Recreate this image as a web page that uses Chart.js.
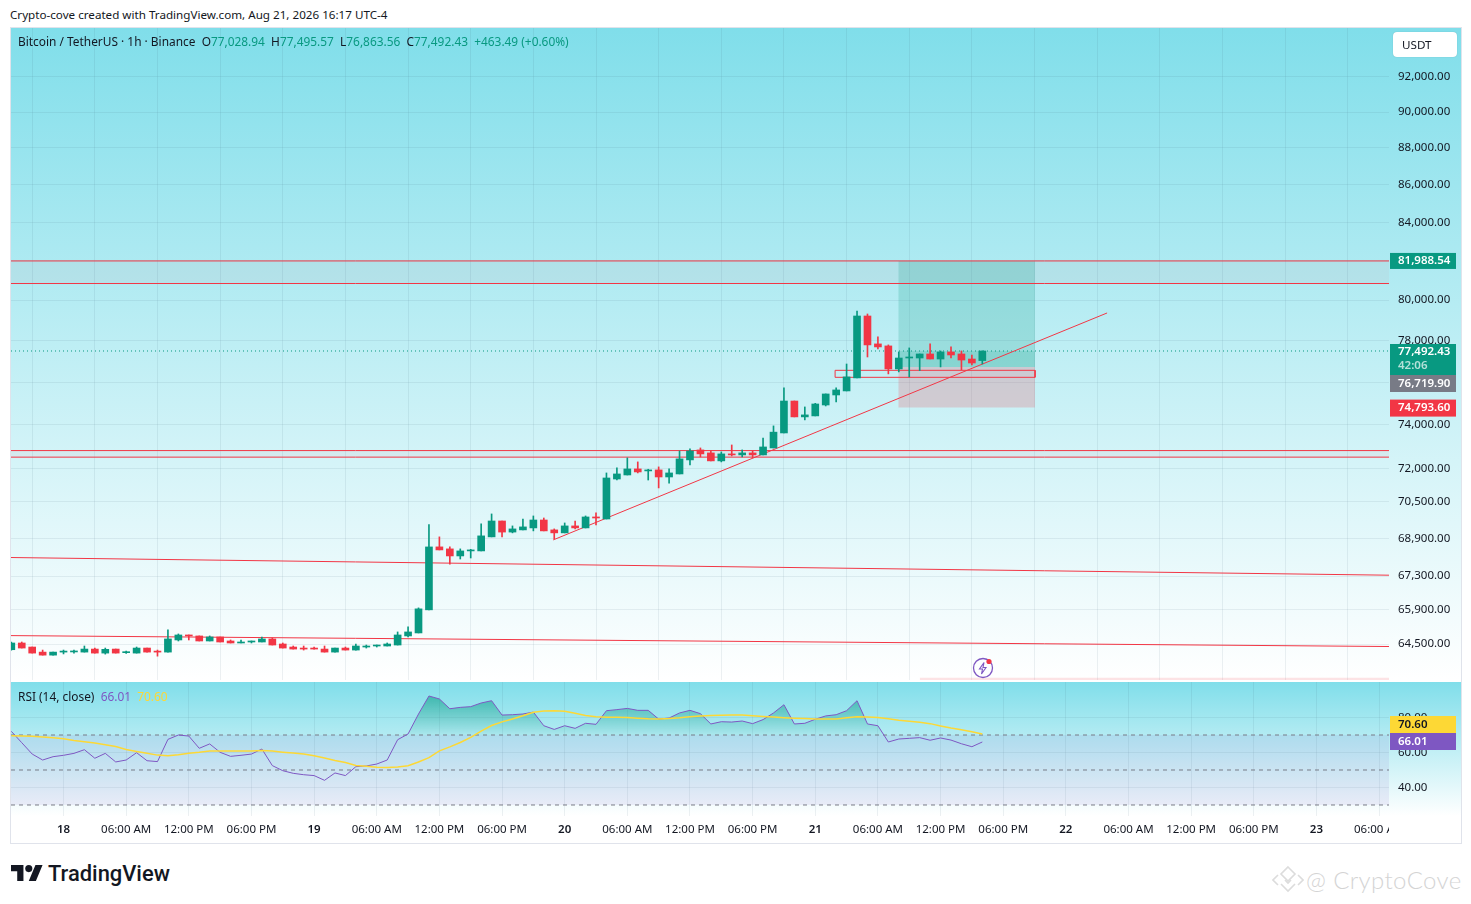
<!DOCTYPE html>
<html>
<head>
<meta charset="utf-8">
<title>BTCUSDT 1h</title>
<script src="https://cdn.jsdelivr.net/npm/chart.js@4"></script>
<style>
  html, body { margin: 0; padding: 0; background: #fff; overflow: hidden; }
  body { width: 1471px; height: 904px; position: relative; font-family: "Noto Sans", sans-serif; color: #131722; font-size: 11.65px; }
  .abs { position: absolute; white-space: nowrap; }
  .legend { font-size: 11.9px; }
  #frame { left: 10px; top: 27px; width: 1450px; height: 815px; border: 1px solid #e0e3eb; }
  #pricePane { left: 11px; top: 28px; width: 1450px; height: 652px; background: linear-gradient(#80deea, #fff); }
  #rsiPane { left: 11px; top: 682px; width: 1450px; height: 134px; background: linear-gradient(#80deea, #fff); }
  canvas { position: absolute; display: block; }
  .g { color: #089981; }
  #usdt { left: 1393px; top: 32px; width: 64px; height: 25px; line-height: 25px; background: #fff; border-radius: 4px; padding-left: 9px; box-sizing: border-box; box-shadow: 0 0 1px rgba(0,0,0,.25); }
</style>
</head>
<body>
<div class="abs" id="frame"></div>
<div class="abs" id="pricePane"></div>
<div class="abs" id="rsiPane"></div>
<canvas id="priceChart" width="1450" height="652" style="left:11px;top:28px"></canvas>
<canvas id="rsiChart" width="1450" height="161" style="left:11px;top:682px"></canvas>

<div class="abs" style="left:10px;top:7px">Crypto-cove created with TradingView.com, Aug 21, 2026 16:17 UTC-4</div>
<div class="abs legend" style="left:18px;top:33px">Bitcoin / TetherUS · 1h · Binance &nbsp;O<span class="g">77,028.94</span> &nbsp;H<span class="g">77,495.57</span> &nbsp;L<span class="g">76,863.56</span> &nbsp;C<span class="g">77,492.43</span> &nbsp;<span class="g">+463.49 (+0.60%)</span></div>
<div class="abs" id="usdt">USDT</div>
<div class="abs legend" style="left:18px;top:688px">RSI (14, close) &nbsp;<span style="color:#7e57c2">66.01</span> &nbsp;<span style="color:#fdd835">70.60</span></div>

<svg class="abs" style="left:971px;top:656px" width="24" height="24" viewBox="0 0 24 24">
  <circle cx="12" cy="12" r="9.5" fill="none" stroke="#7e57c2" stroke-width="1.3"/>
  <path d="M13 6.5 8.5 13h3l-1 5 4.5-6.5h-3z" fill="none" stroke="#7e57c2" stroke-width="1.1"/>
  <circle cx="18" cy="5.5" r="2.6" fill="#f23645"/>
</svg>

<svg class="abs" style="left:11px;top:864px" width="32" height="19" viewBox="0 4 36 19">
  <path d="M14 22H7V11H0V4h14v18zM28 22h-8l7.5-18h8L28 22z" fill="#131722"/><circle cx="20" cy="8" r="4" fill="#131722"/>
</svg>
<div class="abs" style="left:48px;top:859px;font:500 21.9px Roboto, sans-serif;line-height:30px">TradingView</div>

<svg class="abs" style="left:1272px;top:865px" width="32" height="30" viewBox="0 0 32 30" fill="none" stroke="#dcdcdc" stroke-width="1.6">
  <path d="M16 2 23 9 16 16 9 9z"/><path d="M6 10 1 15 6 20M26 10l5 5-5 5"/><path d="M9 19l7 7 7-7"/><path d="M13 15l3 3 3-3"/>
</svg>
<div class="abs" style="left:1306px;top:863px;font:300 24px Lato, sans-serif;line-height:34px;color:#d4d4d4;letter-spacing:.4px">@ CryptoCove</div>

<script>
const firstHour = -5;
const opens = [64270,64541,64378,64174,64052,64174,64180,64174,64296,64134,64296,64150,64134,64337,64215,64174,64663,64866,64826,64622,64785,64622,64541,64581,64581,64704,64500,64378,64337,64337,64296,64174,64337,64256,64378,64419,64419,64459,64826,64948,65895,68545,68459,68157,68372,68372,68976,69666,69184,69278,69364,69709,69278,69149,69451,69364,69842,69753,71522,71703,71975,71885,71930,71613,71749,72383,72836,72700,72338,72655,72610,72700,72610,72927,73615,75102,74359,74405,74916,75387,75578,76197,79210,77837,77739,76626,77153,77153,77348,77104,77446,77348,77104,77028.94];
const highs = [64581,64581,64378,64256,64174,64256,64256,64419,64337,64337,64296,64215,64378,64337,64256,65070,64907,64866,64826,64826,64785,64663,64663,64622,64785,64744,64541,64419,64419,64378,64419,64337,64378,64500,64459,64459,64541,64989,65193,65976,69506,68976,68545,68459,68440,69537,69974,69666,69451,69753,69886,69797,69321,69580,69666,69886,70018,71794,72021,72474,72292,71960,72066,71975,72790,72881,72927,72790,72745,73063,72836,72790,73380,73941,75721,75102,74824,74994,75435,75721,76864,79460,79310,78179,77788,77446,77642,77348,77837,77495,77690,77495,77300,77495.57];
const lows = [64256,64337,64134,64052,64052,64100,64134,64174,64134,64093,64134,64120,64134,64174,64011,64174,64622,64663,64622,64622,64581,64541,64541,64541,64581,64459,64337,64296,64256,64296,64174,64174,64256,64256,64337,64378,64419,64459,64785,64948,65895,68415,67811,68027,68070,68372,68976,68976,69149,69278,69235,69235,68890,69149,69321,69364,69494,69753,71477,71703,71794,71477,71123,71341,71749,72156,72519,72338,72292,72564,72519,72474,72610,72927,73615,74359,74220,74405,74870,75054,75578,76197,77202,77592,76388,76483,76245,76546,77104,76722,77153,76578,76817,76863.56];
const closes = [64541,64337,64134,64052,64174,64215,64215,64296,64134,64285,64134,64174,64337,64174,64174,64704,64866,64826,64622,64785,64581,64541,64581,64622,64704,64459,64337,64296,64296,64296,64174,64337,64256,64419,64419,64459,64500,64866,64989,65935,68543,68415,68157,68372,68415,69019,69666,69184,69321,69408,69709,69235,69149,69451,69364,69842,69797,71568,71749,71975,71839,71930,71613,71794,72428,72790,72655,72338,72655,72610,72700,72610,72972,73652,75102,74359,74452,74963,75435,75625,76245,79210,77788,77690,76626,77153,77202,77348,77104,77446,77300,77055,76912,77492.43];

const rsiValues = [72.1,65.6,59.1,55.7,57.6,58.4,59.5,61.6,56.7,59.5,54.6,55.7,59.9,55.3,54.8,67.5,70,69.4,62.4,64.9,60.1,57.8,58.4,59.1,62,52.5,49.6,48.1,47.3,46.8,44.1,48.3,46.8,51.9,52.3,53.4,55.7,67.3,70.6,82,92.3,90.6,85,85.8,86.2,88.3,89.6,81.4,81.6,82,83.1,75.3,73.2,75.3,73.8,76.7,76.1,83.9,84.5,85.2,84.1,84.1,79.1,79.7,82.6,84.1,82.2,76.3,77.6,77.4,78,76.5,78.8,82.6,87.3,76.3,76.7,79,80.9,81.6,83.9,89.6,76.3,75.3,66,67.7,68.1,68.5,67,68.3,67.1,65,63.3,66.01];
const rsiMa = [69.6,69.5,69.3,68.9,68.4,67.8,66.9,66.2,65.4,64.4,63.4,61.7,60.6,59.6,58.5,58.2,58.7,59.6,60.1,60.8,60.9,60.8,60.8,60.9,61.1,60.8,60.2,59.7,59.1,58.2,56.9,55.4,54.3,52.6,52.1,51.5,51.4,51.7,52.4,54.6,57.1,60.9,63.2,65.7,68.6,72.2,75.4,77.5,79.2,81,83,83.7,83.9,83.6,82.4,81.2,80.4,80.2,80.1,80,79.6,79.3,79.2,79.4,79.8,80.4,80.9,81.2,81.3,81.4,81.4,81,80.6,80.3,79.9,79.6,79.4,79.2,79.1,79.2,79.8,80.4,80.3,80,79.3,78.5,77.9,77.3,76.5,75.2,74,73,71.9,70.6];

const priceTicks = [92000,90000,88000,86000,84000,82000,80000,78000,76000,74000,72000,70500,68900,67300,65900,64500];
const rsiTicks = [80,60,40];
const rsiLevels = [70,50,30];
const timeTickHours = [0,6,12,18,24,30,36,42,48,54,60,66,72,78,84,90,96,102,108,114,120,126];
const timeTickLabels = ['18','06:00 AM','12:00 PM','06:00 PM','19','06:00 AM','12:00 PM','06:00 PM','20','06:00 AM','12:00 PM','06:00 PM','21','06:00 AM','12:00 PM','06:00 PM','22','06:00 AM','12:00 PM','06:00 PM','23','06:00 AM'];

const hourMin = -5.03, hourMax = 126.95;
const priceMin = 63062, priceMax = 94867;
const rsiMin = 23.7, rsiMax = 100.3;

// drawings
const lastClose = 77492.43;
const entryPrice = 76719.90, targetPrice = 81988.54, stopPrice = 74793.60;
const toolStart = 79.95, toolEnd = 93.05;
const zoneUpper = [81988.54, 80837], zoneLower = [72807, 72508];
const boxHours = [73.9, 93.05], boxPrices = [76560, 76225];
const slopeA = [{x:hourMin,y:68090},{x:hourMax,y:67340}];
const slopeB = [{x:hourMin,y:64840},{x:hourMax,y:64398}];
const trendUp = [{x:46.9,y:68844},{x:99.95,y:79360}];
const bottomWedge = [{x:82,y:63062},{x:hourMax,y:63150}];

const GREEN = '#089981', RED = '#f23645', PURPLE = '#7e57c2', YELLOW = '#fdd835';
const FONT = '"Noto Sans", sans-serif';
const GRID = 'rgba(60,90,110,0.09)';
const hours = opens.map((_, i) => firstHour + i);
const candleColors = closes.map((c, i) => c >= opens[i] ? GREEN : RED);

function lineSet(data, color, order, extra) {
    return Object.assign({ type: 'line', data, borderColor: color, borderWidth: 1, pointRadius: 0, order }, extra);
}
function levelSet(price, color, order, extra) {
    return lineSet([{x: hourMin, y: price}, {x: hourMax, y: price}], color, order, extra);
}
function rectSet(x1, x2, top, bottom, color, order) {
    return {
        type: 'line', order, pointRadius: 0, borderWidth: 0,
        data: [{x: x1, y: top}, {x: x2, y: top}],
        fill: { target: { value: bottom }, above: color, below: color }
    };
}
function drawTag(ctx, y, h, color, text, textColor) {
    ctx.fillStyle = color;
    ctx.fillRect(1379, y, 66, h);
    ctx.fillStyle = textColor || '#fff';
    ctx.font = '600 11.5px ' + FONT;
    ctx.textAlign = 'left';
    ctx.textBaseline = 'middle';
    ctx.fillText(text, 1387, y + h / 2);
}
// the scales keep half a label of room otherwise, the panes here run edge to edge
function noPadding(s) {
    s.paddingTop = s.paddingBottom = s.paddingLeft = s.paddingRight = 0;
}

const priceTags = {
    id: 'priceTags',
    afterDraw(chart) {
        const ctx = chart.ctx, s = chart.scales.y;
        ctx.save();
        drawTag(ctx, s.getPixelForValue(targetPrice) - 8, 16, GREEN, '81,988.54');
        drawTag(ctx, s.getPixelForValue(stopPrice) - 8, 17, RED, '74,793.60');
        ctx.fillStyle = GREEN;
        ctx.fillRect(1379, 316, 66, 31);
        ctx.fillStyle = '#fff';
        ctx.font = '600 11.5px ' + FONT;
        ctx.textAlign = 'left';
        ctx.textBaseline = 'middle';
        ctx.fillText('77,492.43', 1387, 324);
        ctx.fillStyle = 'rgba(255,255,255,0.7)';
        ctx.fillText('42:06', 1387, 338);
        drawTag(ctx, 347, 17, '#787b86', '76,719.90');
        ctx.restore();
    }
};
const rsiTags = {
    id: 'rsiTags',
    afterDraw(chart) {
        const ctx = chart.ctx;
        ctx.save();
        ctx.fillStyle = '#fff';
        ctx.fillRect(1378, 135, 72, 26);
        drawTag(ctx, 34, 17, YELLOW, '70.60', '#131722');
        drawTag(ctx, 51, 17, PURPLE, '66.01');
        ctx.restore();
    }
};

const priceDatasets = [
    { type: 'bar', data: hours.map((h, i) => ({x: h, y: [opens[i], closes[i]]})), backgroundColor: candleColors, barThickness: 7, minBarLength: 1, grouped: false, order: 1 },
    { type: 'bar', data: hours.map((h, i) => ({x: h, y: [lows[i], highs[i]]})), backgroundColor: candleColors, barThickness: 1, grouped: false, order: 2 },
    lineSet(trendUp, RED, 3),
    levelSet(lastClose, GREEN, 3, { borderDash: [1, 3] }),
    levelSet(zoneUpper[0], RED, 4),
    levelSet(zoneUpper[1], RED, 4),
    levelSet(zoneLower[0], RED, 4),
    levelSet(zoneLower[1], RED, 4),
    lineSet(slopeA, RED, 4),
    lineSet(slopeB, RED, 4),
    lineSet([
        {x: boxHours[0], y: boxPrices[0]}, {x: boxHours[1], y: boxPrices[0]},
        {x: boxHours[1], y: boxPrices[1]}, {x: boxHours[0], y: boxPrices[1]},
        {x: boxHours[0], y: boxPrices[0]}
    ], RED, 4),
    rectSet(hourMin, hourMax, zoneUpper[0], zoneUpper[1], 'rgba(242,54,69,0.05)', 6),
    rectSet(hourMin, hourMax, zoneLower[0], zoneLower[1], 'rgba(242,54,69,0.05)', 6),
    rectSet(toolStart, toolEnd, targetPrice, entryPrice, 'rgba(8,153,129,0.2)', 6),
    rectSet(toolStart, toolEnd, lastClose, entryPrice, 'rgba(8,153,129,0.14)', 5),
    rectSet(toolStart, toolEnd, entryPrice, stopPrice, 'rgba(242,54,69,0.2)', 6),
    rectSet(bottomWedge[0].x, bottomWedge[1].x, bottomWedge[1].y, priceMin, 'rgba(242,54,69,0.14)', 6)
];

function timeScale(showLabels) {
    return {
        type: 'linear', min: hourMin, max: hourMax, offset: false,
        border: { display: false },
        grid: { color: GRID, drawTicks: false },
        afterBuildTicks: s => { s.ticks = timeTickHours.map(v => ({ value: v })); },
        afterFit: s => { s.height = showLabels ? 27 : 0; noPadding(s); },
        ticks: showLabels ? {
            display: true, autoSkip: false, maxRotation: 0, padding: 7, color: '#131722',
            font: ctx => ({ family: FONT, size: 11.5, weight: ctx.index % 4 === 0 ? '600' : '400' }),
            callback: v => timeTickLabels[timeTickHours.indexOf(v)]
        } : { display: false }
    };
}
function valueScale(type, min, max, ticks, digits) {
    return {
        type, position: 'right', min, max,
        border: { display: false },
        grid: { color: GRID, drawTicks: false },
        afterBuildTicks: s => { s.ticks = ticks.map(v => ({ value: v })); },
        afterFit: s => { s.width = 72; noPadding(s); },
        ticks: {
            padding: 9, color: '#131722', autoSkip: false,
            font: { family: FONT, size: 11.5 },
            callback: v => v.toLocaleString('en-US', { minimumFractionDigits: digits, maximumFractionDigits: digits })
        }
    };
}
const baseOptions = {
    responsive: false, animation: false, devicePixelRatio: 1,
    layout: { padding: 0, autoPadding: false },
    plugins: { legend: { display: false }, tooltip: { enabled: false } }
};

new Chart(document.getElementById('priceChart'), {
    data: { datasets: priceDatasets },
    options: Object.assign({}, baseOptions, {
        scales: { x: timeScale(false), y: valueScale('logarithmic', priceMin, priceMax, priceTicks, 2) }
    }),
    plugins: [priceTags]
});

// green shade of the overbought part, style only
const rsiCanvas = document.getElementById('rsiChart');
const overbought = rsiCanvas.getContext('2d').createLinearGradient(0, 12, 0, 53);
overbought.addColorStop(0, 'rgba(8,153,129,0.6)');
overbought.addColorStop(1, 'rgba(8,153,129,0.04)');

new Chart(rsiCanvas, {
    data: { datasets: [
        lineSet(hours.map((h, i) => ({x: h, y: rsiMa[i]})), YELLOW, 1, { borderWidth: 1.5 }),
        lineSet(hours.map((h, i) => ({x: h, y: rsiValues[i]})), PURPLE, 2, {
            fill: { target: { value: rsiLevels[0] }, above: overbought, below: 'rgba(0,0,0,0)' }
        }),
        levelSet(rsiLevels[0], '#787b86', 3, { borderDash: [4, 4] }),
        levelSet(rsiLevels[1], '#787b86', 3, { borderDash: [4, 4] }),
        levelSet(rsiLevels[2], '#787b86', 3, { borderDash: [4, 4] }),
        rectSet(hourMin, hourMax, rsiLevels[0], rsiLevels[2], 'rgba(126,87,194,0.1)', 4)
    ] },
    options: Object.assign({}, baseOptions, {
        scales: { x: timeScale(true), y: valueScale('linear', rsiMin, rsiMax, rsiTicks, 2) }
    }),
    plugins: [rsiTags]
});
</script>
</body>
</html>
